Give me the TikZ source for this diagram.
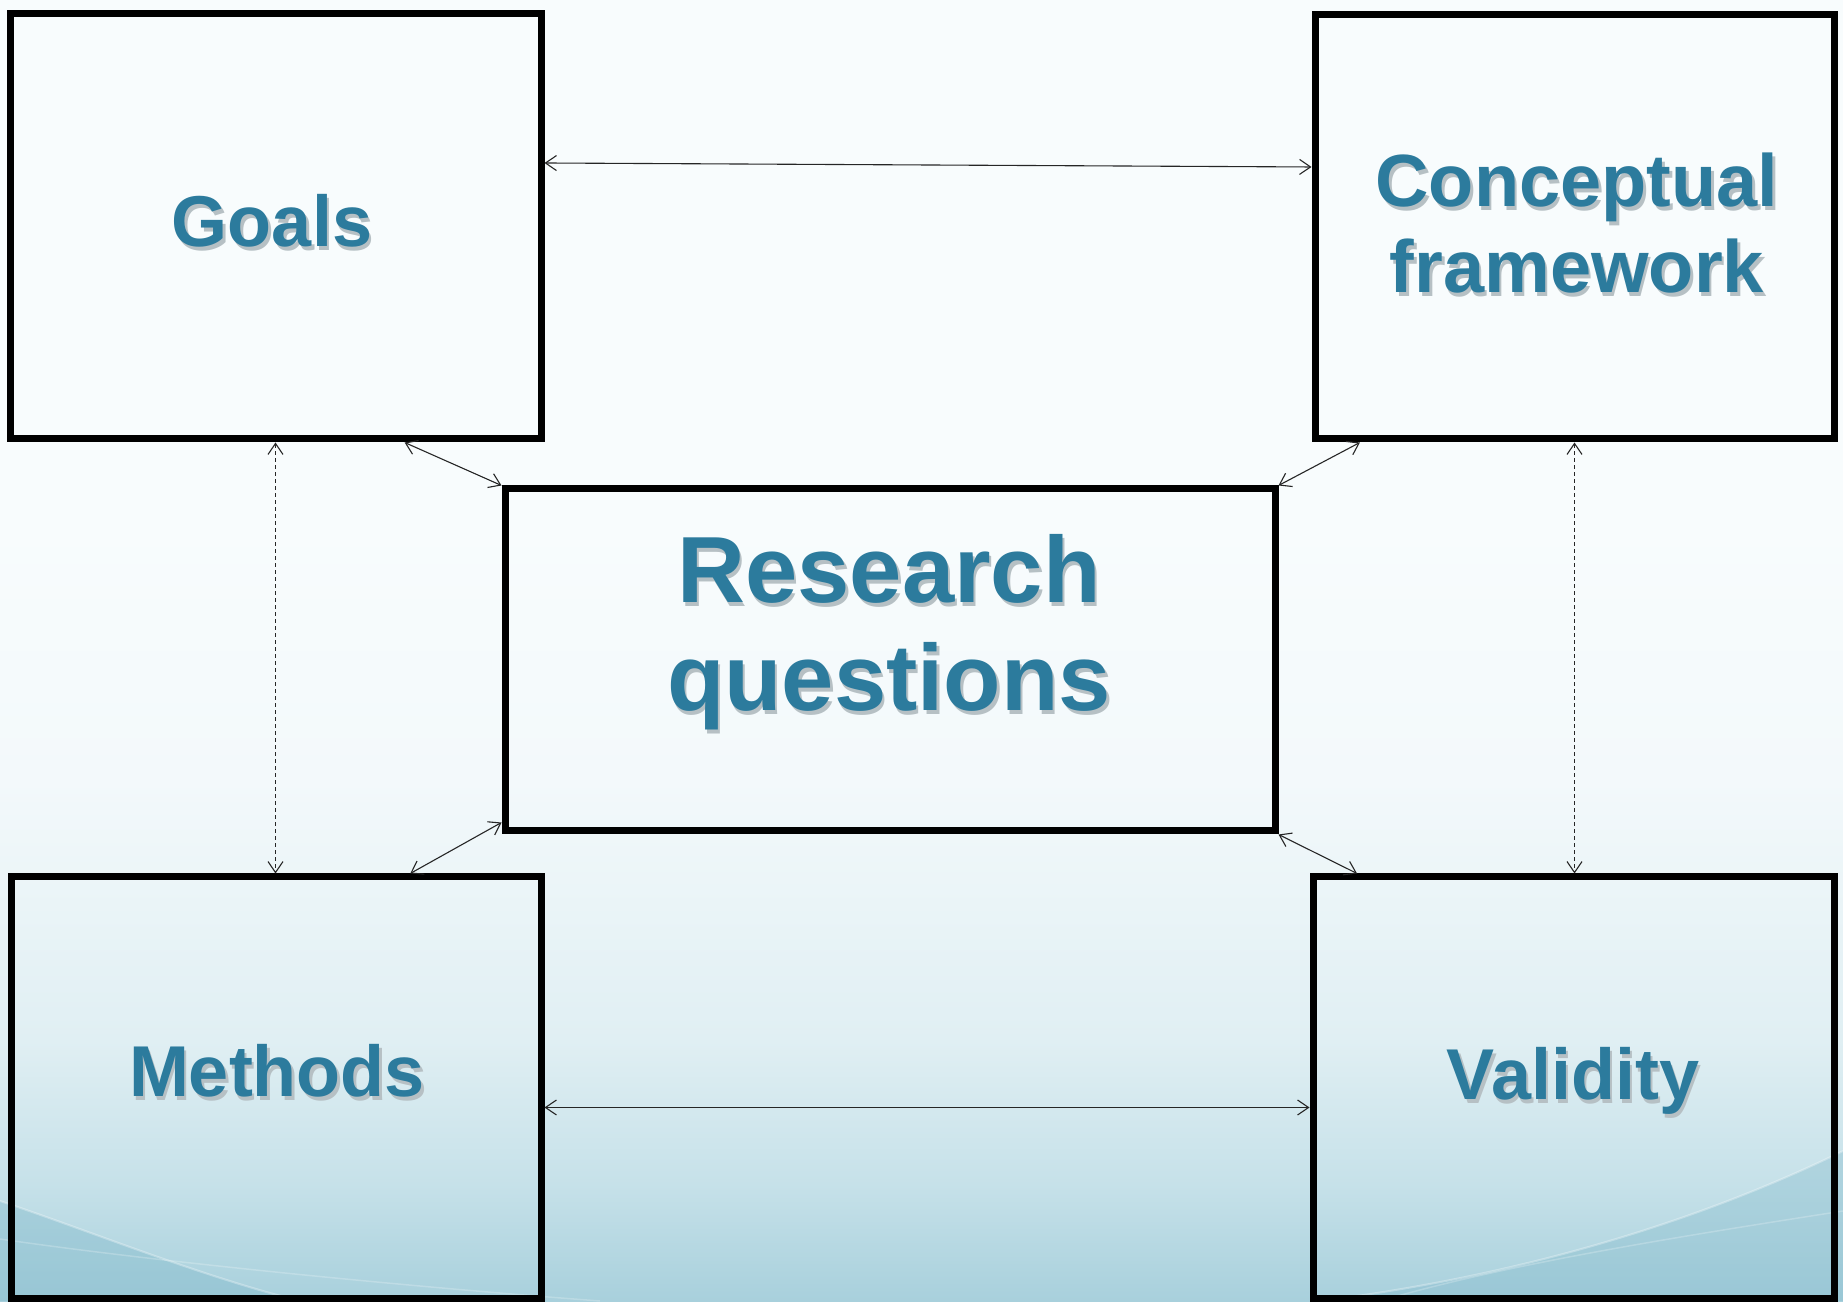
\documentclass[tikz,border=0pt]{standalone}
\usepackage{fontspec}
\setmainfont{Liberation Sans}
\usetikzlibrary{arrows.meta,calc}
\definecolor{txtblue}{HTML}{2C7B9D}
\definecolor{shadowc}{HTML}{B6C0C4}
\definecolor{bgtop}{HTML}{F8FCFD}
\definecolor{bgmid}{HTML}{F3F9FB}
\definecolor{bgl}{HTML}{E0EFF3}
\definecolor{bgll}{HTML}{C6E1E9}
\definecolor{bgbot}{HTML}{A8D0DC}
\definecolor{bgdark}{HTML}{7FB8CA}
\pgfdeclareverticalshading{slidebg}{100bp}{color(0bp)=(bgbot); color(25bp)=(bgbot); color(29.5bp)=(bgll); color(35bp)=(bgl); color(45bp)=(bgmid); color(55bp)=(bgtop); color(75bp)=(bgtop); color(100bp)=(bgtop)}
\newcommand{\shd}[1]{\leavevmode\rlap{\kern2.5pt\raisebox{-3.5pt}{\textcolor{shadowc}{#1}}}#1}
\tikzset{
  box/.style={draw=black, line width=7pt, rectangle, inner sep=0pt, fill=none},
  lbl/.style={text=txtblue, font=\bfseries\fontsize{72}{86}\selectfont, inner sep=0pt, text depth=0pt, anchor=south, align=center},
  link/.style={draw=black!85, line width=1.1pt, {Straight Barb[length=11pt,width=15pt]}-{Straight Barb[length=11pt,width=15pt]}},
  dlink/.style={link, dash pattern=on 4pt off 3pt},
}
\begin{document}
\begin{tikzpicture}[x=1pt,y=1pt]
\useasboundingbox (0,0) rectangle (1843,1301);
\shade[shading=slidebg] (0,0) rectangle (1843,1301);
% subtle swooshes
\fill[bgdark, opacity=0.40] (0,0) -- (0,100) .. controls (90,70) and (200,25) .. (300,0) -- cycle;
\draw[white, opacity=0.30, line width=2pt] (0,100) .. controls (90,70) and (200,25) .. (300,0);
\draw[white, opacity=0.22, line width=1.5pt] (0,62) .. controls (150,40) and (400,15) .. (600,0);
\fill[bgdark, opacity=0.35] (1843,0) -- (1843,150) .. controls (1700,80) and (1520,25) .. (1320,0) -- cycle;
\draw[white, opacity=0.30, line width=2pt] (1843,150) .. controls (1700,80) and (1520,25) .. (1320,0);
\draw[white, opacity=0.22, line width=1.5pt] (1843,90) .. controls (1650,60) and (1500,35) .. (1380,0);

% boxes
\node[box, minimum width=531pt, minimum height=425pt] (goals) at (275.5,1074.5) {};
\node[box, minimum width=519pt, minimum height=424pt] (concept) at (1574.5,1074) {};
\node[box, minimum width=770pt, minimum height=342pt] (rq) at (890,641) {};
\node[box, minimum width=530pt, minimum height=421pt] (methods) at (276,213.5) {};
\node[box, minimum width=521pt, minimum height=421pt] (validity) at (1573.5,213.5) {};

% labels
\node[lbl] (tgoals) at (272,1054) {\shd{Goals}};
\node[lbl, font=\bfseries\fontsize{74}{86}\selectfont] (tconcept) at (1577,1008) {\shd{Conceptual}\\\shd{framework}};
\node[lbl, font=\bfseries\fontsize{94}{108}\selectfont] (trq) at (889,590) {\shd{Research}\\\shd{questions}};
\node[lbl] (tmethods) at (277,204) {\shd{Methods}};
\node[lbl] (tvalidity) at (1573,201) {\shd{Validity}};

% connectors
\draw[link] ([yshift=63.5pt]goals.east) -- ([yshift=60pt]concept.west);
\draw[link] ([yshift=-20pt]methods.east) -- ([yshift=-20pt]validity.west);
\draw[dlink] (goals.south) -- (goals.south |- methods.north);
\draw[dlink] (concept.south) -- (concept.south |- validity.north);
\draw[link] ($(goals.south west)!0.74!(goals.south east)$) -- (rq.north west);
\draw[link] ($(concept.south west)!0.092!(concept.south east)$) -- (rq.north east);
\draw[link] ($(methods.north west)!0.75!(methods.north east)$) -- ([yshift=12pt]rq.south west);
\draw[link] ($(validity.north west)!0.09!(validity.north east)$) -- (rq.south east);
\end{tikzpicture}
\end{document}
